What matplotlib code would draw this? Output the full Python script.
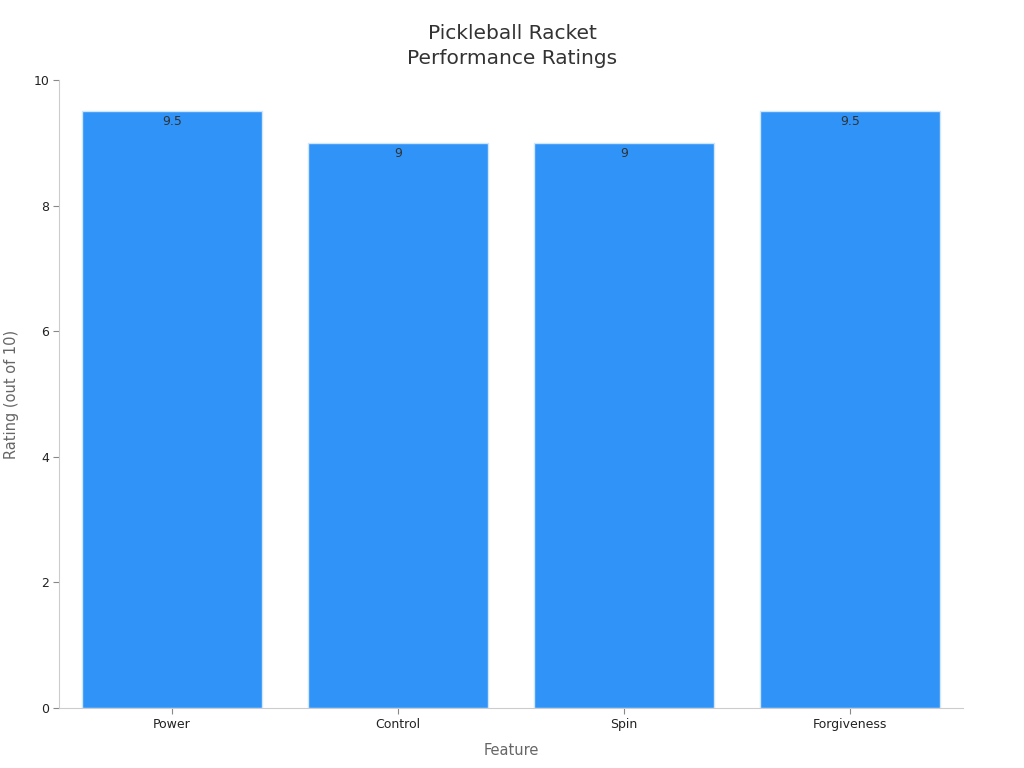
import matplotlib
matplotlib.use("Agg")
import matplotlib.pyplot as plt

categories = ["Power", "Control", "Spin", "Forgiveness"]
ratings = [9.5, 9, 9, 9.5]
value_labels = ["9.5", "9", "9", "9.5"]
yticks = [0, 2, 4, 6, 8, 10]

plt.rcParams['font.family'] = ['DejaVu Sans']
fig = plt.figure(figsize=(10.24, 7.68), dpi=100)
ax = fig.add_axes([59/1024, 1-708/768, (963-59)/1024, (708-80)/768])

x = list(range(len(categories)))
bars = ax.bar(x, ratings, width=0.8, color="#2f93f8", edgecolor="#cfe6fb", linewidth=1)
for b, lab in zip(bars, value_labels):
    ax.text(b.get_x() + b.get_width()/2, b.get_height() - 0.06, lab,
            ha="center", va="top", fontsize=9, color="#333333")

ax.set_xlim(-0.5, 3.5)
ax.set_ylim(0, 10)
ax.set_xticks(x)
ax.set_xticklabels(categories, fontsize=9, color="#222222")
ax.set_yticks(yticks)
ax.set_yticklabels([str(t) for t in yticks], fontsize=9, color="#222222")
for s in ["top", "right"]:
    ax.spines[s].set_visible(False)
for s in ["left", "bottom"]:
    ax.spines[s].set_color("#cccccc")
ax.tick_params(axis="both", colors="#888888", labelcolor="#222222", length=4, pad=3)
ax.set_xlabel("Feature", fontsize=10.5, color="#666666", labelpad=9)
ax.set_ylabel("Rating (out of 10)", fontsize=10.5, color="#666666")
ax.yaxis.set_label_coords(-(59-19)/904, 0.5)
fig.text(0.5, 1-46/768, "Pickleball Racket\nPerformance Ratings", ha="center", va="center",
         fontsize=14.5, color="#333333", linespacing=1.4)

fig.savefig("out.png", dpi=100, facecolor="white")
